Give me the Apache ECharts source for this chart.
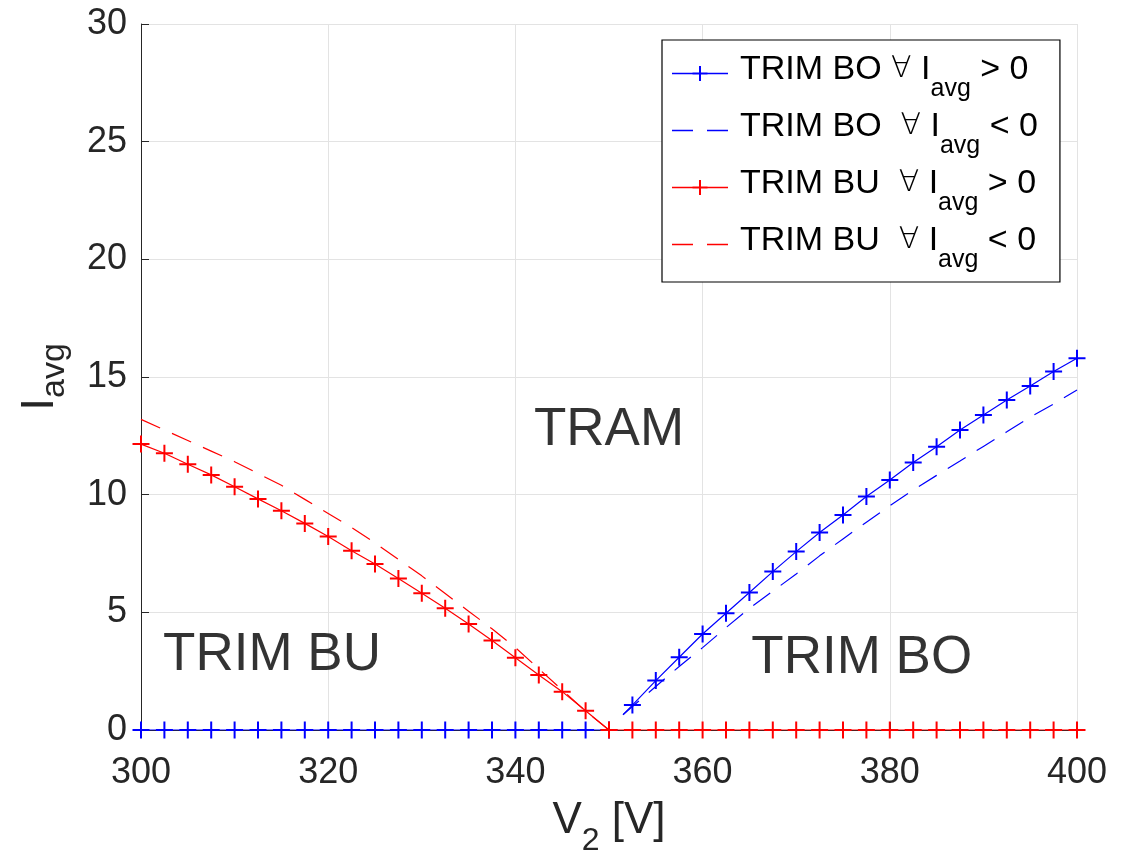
<!DOCTYPE html>
<html>
<head>
<meta charset="utf-8">
<script src="https://cdn.jsdelivr.net/npm/echarts@6/dist/echarts.min.js"></script>
<style>
html,body{margin:0;padding:0;background:#fff;}
#chart{width:1132px;height:851px;}
</style>
</head>
<body>
<div id="chart"></div>
<script>
// ---- data ----
const V = [300, 302.5, 305, 307.5, 310, 312.5, 315, 317.5, 320, 322.5, 325, 327.5, 330, 332.5, 335, 337.5, 340, 342.5, 345, 347.5, 350,
           352.5, 355, 357.5, 360, 362.5, 365, 367.5, 370, 372.5, 375, 377.5, 380, 382.5, 385, 387.5, 390, 392.5, 395, 397.5, 400];
// TRIM BO, I_avg > 0 (one value per V)
const boPos = [0, 0, 0, 0, 0, 0, 0, 0, 0, 0, 0, 0, 0, 0, 0, 0, 0, 0, 0, 0, 0,
               1.06, 2.10, 3.09, 4.08, 4.96, 5.84, 6.73, 7.58, 8.39, 9.14, 9.92, 10.62, 11.37, 12.04, 12.75, 13.39, 14.02, 14.62, 15.23, 15.80];
// TRIM BO, I_avg < 0 (V from 352.5 to 400)
const boNeg = [1.00, 1.85, 2.70, 3.50, 4.35, 5.17, 5.90, 6.63, 7.40, 8.12, 8.83, 9.53, 10.20, 10.82, 11.43, 12.05, 12.67, 13.30, 13.85, 14.45];
// start of the TRIM BO branch (V, I)
const boEdge = [351.5, 0.65];
// TRIM BU, I_avg > 0 (one value per V)
const buPos = [12.15, 11.76, 11.29, 10.84, 10.34, 9.82, 9.32, 8.78, 8.22, 7.62, 7.05, 6.44, 5.81, 5.17, 4.50, 3.80, 3.07, 2.34, 1.63, 0.82, 0,
               0, 0, 0, 0, 0, 0, 0, 0, 0, 0, 0, 0, 0, 0, 0, 0, 0, 0, 0, 0];
// TRIM BU, I_avg < 0 (V from 300 to 350)
const buNeg = [13.20, 12.75, 12.30, 11.85, 11.40, 10.90, 10.40, 9.80, 9.20, 8.60, 7.95, 7.25, 6.55, 5.80, 5.05, 4.30, 3.50, 2.60, 1.70, 0.80, 0];

const xTicks = [300, 320, 340, 360, 380, 400];
const yTicks = [0, 5, 10, 15, 20, 25, 30];

const legendHead = ['TRIM BO ', 'TRIM BO  ', 'TRIM BU  ', 'TRIM BU  '];
const legendForAll = ['\u2200', '\u2200', '\u2200', '\u2200'];
const legendVar = [' I', ' I', ' I', ' I'];
const legendSub = ['avg', 'avg', 'avg', 'avg'];
const legendTail = [' > 0', ' < 0', ' > 0', ' < 0'];
const seriesNames = legendHead.map((h, i) => h + legendForAll[i] + legendVar[i] + legendSub[i] + legendTail[i]);

const regionText = ['TRAM', 'TRIM BU', 'TRIM BO'];
const regionV = [350, 314, 377];
const regionI = [12.75, 3.19, 3.05];

// ---- build ----
const FONT = '"Liberation Sans", Arial, Helvetica, sans-serif';
const BLUE = '#0000ff', RED = '#ff0000';
const PLUS = 'path://M7.5,0H9.5V7.5H17V9.5H9.5V17H7.5V9.5H0V7.5H7.5Z';
// legend icons (63 x 15 box, drawn part 56 wide)
const ICON_PLUS = 'path://M0,0L0,0ZM63,15L63,15ZM0,6.7H56V8.3H0ZM27,0H29V15H27ZM20.5,6.5H35.5V8.5H20.5Z';
const ICON_DASH = 'path://M0,0L0,0ZM63,15L63,15ZM0,6.7H21V8.3H0ZM35,6.7H56V8.3H35Z';
const legendIcons = [ICON_PLUS, ICON_DASH, ICON_PLUS, ICON_DASH];

const boPosData = [];
V.forEach((v, i) => {
  if (v > boEdge[0] && boPosData.length === i) {
    boPosData.push([boEdge[0], null]);
    boPosData.push({ value: boEdge.slice(), symbol: 'none' });
  }
  boPosData.push([v, boPos[i]]);
});
const boNegData = [boEdge.slice()].concat(boNeg.map((y, i) => [V[21 + i], y]));
const buPosData = V.map((v, i) => [v, buPos[i]]);
const buNegData = buNeg.map((y, i) => [V[i], y]);

const chart = echarts.init(document.getElementById('chart'), null, { renderer: 'canvas' });

const lineCommon = { width: 1.2 };
const option = {
  animation: false,
  backgroundColor: '#ffffff',
  textStyle: { fontFamily: FONT },
  grid: { left: 141, right: 55, top: 24, bottom: 121, containLabel: false, outerBoundsMode: 'none' },
  xAxis: {
    type: 'value', min: xTicks[0], max: xTicks[xTicks.length - 1], interval: 20,
    name: '{m|V}{s|2}{m| [V]}', nameLocation: 'middle', nameGap: 68, nameMoveOverlap: false,
    nameTextStyle: {
      rich: {
        m: { fontSize: 44, fontFamily: FONT, color: '#262626', lineHeight: 46 },
        s: { fontSize: 32, fontFamily: FONT, color: '#262626', lineHeight: 46, padding: [40, 0, 0, 0] }
      }
    },
    axisLine: { show: true, onZero: false, lineStyle: { color: '#262626', width: 1 } },
    axisTick: { show: true, inside: true, length: 8, lineStyle: { color: '#262626' } },
    axisLabel: { fontSize: 36, color: '#262626', fontFamily: FONT, margin: 25 },
    splitLine: { show: true, lineStyle: { color: '#e3e3e3', width: 1 } }
  },
  yAxis: {
    type: 'value', min: yTicks[0], max: yTicks[yTicks.length - 1], interval: 5,
    name: '{m|I}{s|avg}', nameLocation: 'middle', nameGap: 78, nameRotate: 90, nameMoveOverlap: false,
    nameTextStyle: {
      rich: {
        m: { fontSize: 46, fontFamily: FONT, color: '#262626', lineHeight: 46 },
        s: { fontSize: 34, fontFamily: FONT, color: '#262626', lineHeight: 46, padding: [30, 0, 0, 0] }
      }
    },
    axisLine: { show: true, onZero: false, lineStyle: { color: '#262626', width: 1 } },
    axisTick: { show: true, inside: true, length: 8, lineStyle: { color: '#262626' } },
    axisLabel: { fontSize: 36, color: '#262626', fontFamily: FONT, margin: 14 },
    splitLine: { show: true, lineStyle: { color: '#e3e3e3', width: 1 } }
  },
  legend: {
    data: seriesNames.map((n, i) => ({ name: n, icon: legendIcons[i] })),
    orient: 'vertical', left: 662, top: 40,
    padding: [5, 22, 9, 10],
    itemGap: 0, itemWidth: 63, itemHeight: 15,
    borderColor: '#000000', borderWidth: 1.2, backgroundColor: '#ffffff',
    formatter: function (name) {
      const i = seriesNames.indexOf(name);
      return '{m|' + legendHead[i] + '}{f|' + legendForAll[i] + '}{m|' + legendVar[i] + '}{s|' +
        legendSub[i] + '}{m|' + legendTail[i] + '}';
    },
    textStyle: {
      rich: {
        m: { fontSize: 34, fontFamily: FONT, color: '#000', lineHeight: 40, padding: [0, 0, 8, 0] },
        f: { fontSize: 30, fontFamily: '"DejaVu Sans"', fontWeight: 200, color: '#000', lineHeight: 40, padding: [0, 0, 8, 0] },
        s: { fontSize: 25, fontFamily: FONT, color: '#000', lineHeight: 40, padding: [32, 0, 0, 0] }
      }
    }
  },
  series: [
    {
      name: seriesNames[0], type: 'line', data: boPosData, symbol: PLUS, symbolSize: 17,
      itemStyle: { color: BLUE }, lineStyle: Object.assign({ color: BLUE, type: 'solid' }, lineCommon),
      connectNulls: false, silent: true, z: 2
    },
    {
      name: seriesNames[1], type: 'line', data: boNegData, symbol: 'none', showSymbol: false,
      itemStyle: { color: BLUE }, lineStyle: Object.assign({ color: BLUE, type: [21, 13] }, lineCommon),
      silent: true, z: 2
    },
    {
      name: seriesNames[2], type: 'line', data: buPosData, symbol: PLUS, symbolSize: 17,
      itemStyle: { color: RED }, lineStyle: Object.assign({ color: RED, type: 'solid' }, lineCommon),
      silent: true, z: 3
    },
    {
      name: seriesNames[3], type: 'line', data: buNegData, symbol: 'none', showSymbol: false,
      itemStyle: { color: RED }, lineStyle: Object.assign({ color: RED, type: [21, 13] }, lineCommon),
      silent: true, z: 3
    },
    {
      name: 'regions', type: 'scatter', symbolSize: 0, silent: true, z: 4,
      data: regionText.map((t, i) => ({ name: t, value: [regionV[i], regionI[i]] })),
      label: {
        show: true, position: 'inside', formatter: p => p.name,
        fontSize: 53, color: '#000000', fontFamily: FONT
      }
    }
  ]
};
chart.setOption(option);
</script>
</body>
</html>
